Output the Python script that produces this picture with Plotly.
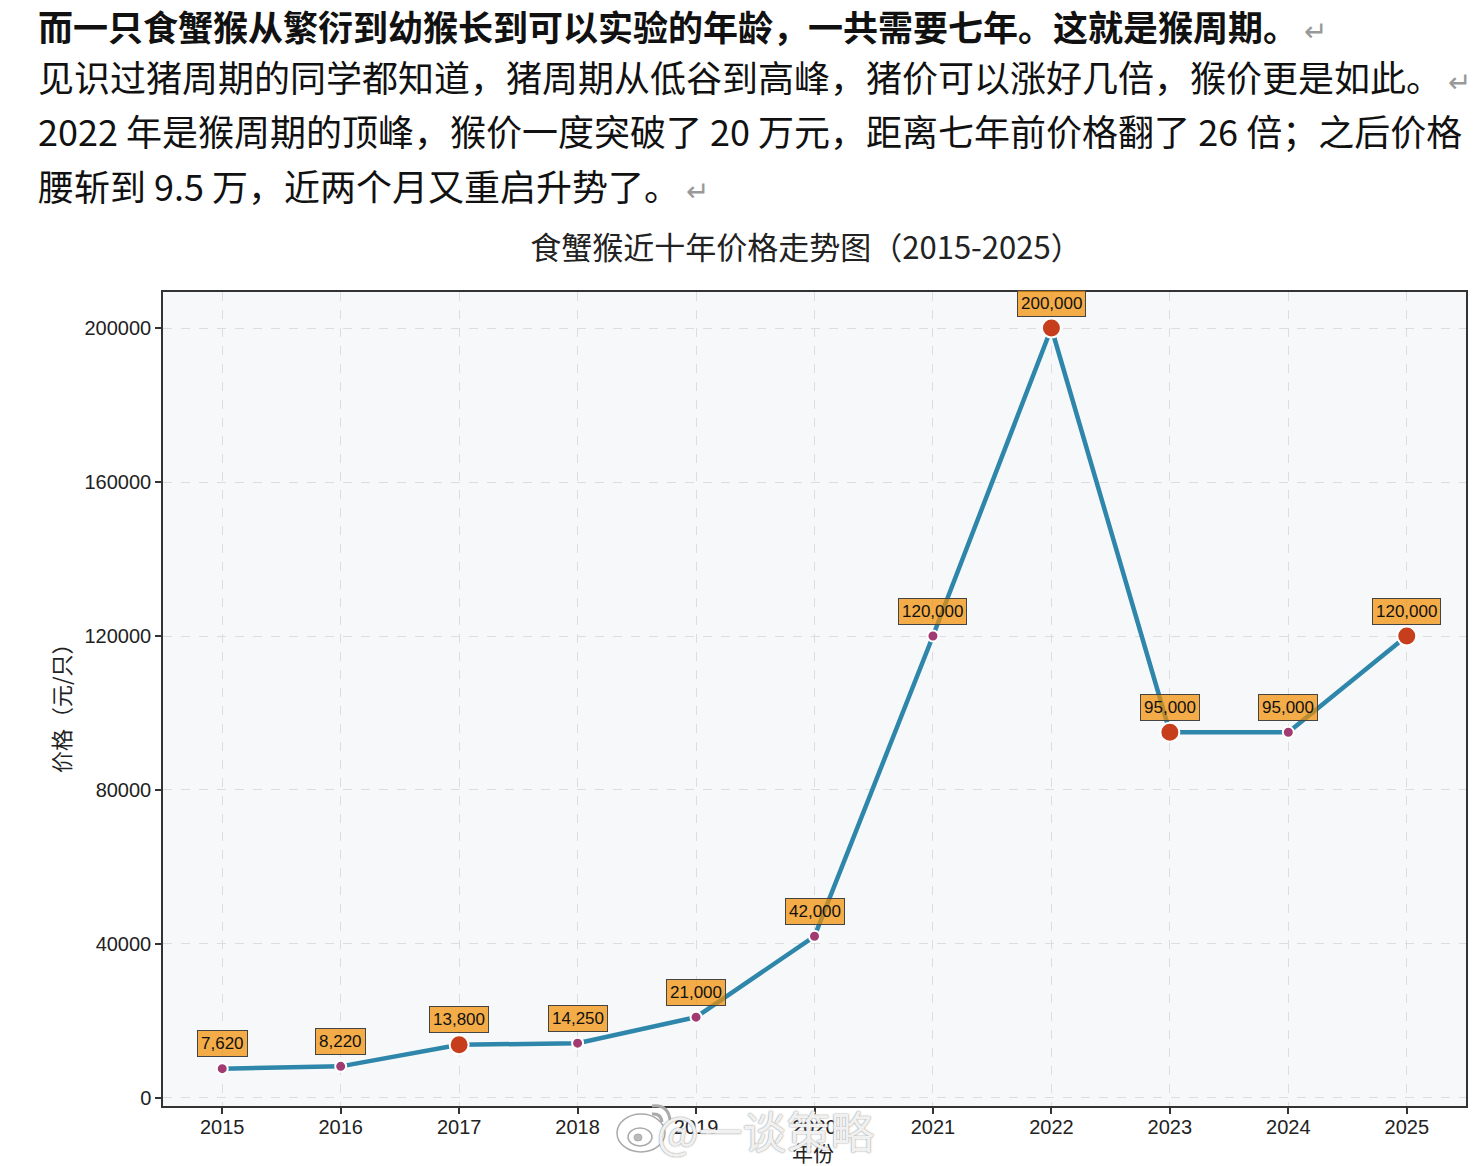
import plotly.graph_objects as go

# ---- data ----
years = [2015, 2016, 2017, 2018, 2019, 2020, 2021, 2022, 2023, 2024, 2025]
prices = [7620, 8220, 13800, 14250, 21000, 42000, 120000, 200000, 95000, 95000, 120000]
key_years = [2017, 2022, 2023, 2025]
y_ticks = [0, 40000, 80000, 120000, 160000, 200000]

title_text = "食蟹猴近十年价格走势图（2015-2025）"
x_title = "年份"
y_title = "价格（元/只）"
intro_lines = [
    ("而一只食蟹猴从繁衍到幼猴长到可以实验的年龄，一共需要七年。这就是猴周期。", True, True),
    ("见识过猪周期的同学都知道，猪周期从低谷到高峰，猪价可以涨好几倍，猴价更是如此。", False, True),
    ("2022 年是猴周期的顶峰，猴价一度突破了 20 万元，距离七年前价格翻了 26 倍；之后价格", False, False),
    ("腰斩到 9.5 万，近两个月又重启升势了。", False, True),
]
watermark = "@一谈策略"

# ---- layout geometry ----
W, H = 1482, 1166
L, R, T, B = 163, 16, 292, 60
PW, PH = W - L - R, H - T - B


def px(x):
    return (x - L) / PW


def py(y):
    return (H - B - y) / PH


CJK = "Noto Sans CJK SC"
BLUE = "#2E86AB"
PURPLE = "#A23B72"
RED = "#C73E1D"
LABEL_BG = "rgba(241,143,1,0.72)"

fig = go.Figure()

fig.add_trace(go.Scatter(
    x=years, y=prices, mode="lines",
    line=dict(color=BLUE, width=4.5), hoverinfo="skip", showlegend=False,
))

small_x = [yr for yr in years if yr not in key_years]
small_y = [p for yr, p in zip(years, prices) if yr not in key_years]
big_x = [yr for yr in years if yr in key_years]
big_y = [p for yr, p in zip(years, prices) if yr in key_years]

fig.add_trace(go.Scatter(
    x=small_x, y=small_y, mode="markers",
    marker=dict(color=PURPLE, size=11, line=dict(color="white", width=2)),
    showlegend=False,
))
fig.add_trace(go.Scatter(
    x=big_x, y=big_y, mode="markers",
    marker=dict(color=RED, size=19, line=dict(color="white", width=2)),
    showlegend=False,
))

annotations = []
for yr, p in zip(years, prices):
    annotations.append(dict(
        x=yr, y=p, xref="x", yref="y", text=f"{p:,}", showarrow=False,
        yshift=25, font=dict(family="Liberation Sans", size=17, color="#111"),
        bgcolor=LABEL_BG, bordercolor="#444", borderwidth=1, borderpad=3,
    ))

line_y = [25, 76, 130, 185]
for i, ((txt, bold, ret), yy) in enumerate(zip(intro_lines, line_y)):
    t = f"<b>{txt}</b>" if bold else txt
    if ret:
        t += "<span style='color:#999;font-size:28px'> ↵</span>"
    annotations.append(dict(
        x=px(36), y=py(yy), xref="paper", yref="paper", text=t,
        showarrow=False, xanchor="left", yanchor="middle",
        font=dict(family=CJK, size=35 if i == 0 else 36, color="#111"),
    ))

annotations.append(dict(
    x=px(60), y=py(703), xref="paper", yref="paper", text=y_title,
    showarrow=False, textangle=-90, xanchor="center", yanchor="middle",
    font=dict(family=CJK, size=22, color="#222"),
))
annotations.append(dict(
    x=px(813), y=py(1152), xref="paper", yref="paper", text=x_title,
    showarrow=False, xanchor="center", yanchor="middle",
    font=dict(family=CJK, size=21, color="#222"),
))
annotations.append(dict(
    x=px(766), y=py(1130), xref="paper", yref="paper", text=watermark,
    showarrow=False, xanchor="center", yanchor="middle",
    font=dict(family=CJK, size=44, color="rgba(255,255,255,0.9)",
              shadow="0 0 1px #888, 0 0 2px #aaa"),
))

# watermark logo (decoration)
shapes = [
    dict(type="circle", xref="paper", yref="paper",
         x0=px(617), x1=px(665), y0=py(1152), y1=py(1114),
         fillcolor="rgba(255,255,255,0.9)", line=dict(color="#aaa", width=1.5)),
    dict(type="circle", xref="paper", yref="paper",
         x0=px(628), x1=px(652), y0=py(1146), y1=py(1128),
         fillcolor="rgba(255,255,255,0.9)", line=dict(color="#aaa", width=1.5)),
    dict(type="circle", xref="paper", yref="paper",
         x0=px(634), x1=px(642), y0=py(1141), y1=py(1134),
         fillcolor="#bbb", line=dict(color="#aaa", width=1)),
    dict(type="path", xref="paper", yref="paper",
         path=f"M {px(652)},{py(1106)} Q {px(668)},{py(1104)} {px(670)},{py(1120)}",
         line=dict(color="#aaa", width=3)),
    dict(type="path", xref="paper", yref="paper",
         path=f"M {px(652)},{py(1114)} Q {px(661)},{py(1113)} {px(662)},{py(1122)}",
         line=dict(color="#aaa", width=3)),
]

axis_common = dict(
    showline=True, mirror=True, linecolor="#333", linewidth=1.5,
    ticks="outside", ticklen=6, tickcolor="#333", tickwidth=1.5,
    showgrid=True, gridcolor="#dddddd", griddash="dash", gridwidth=1,
    zeroline=False,
    tickfont=dict(family="Liberation Sans", size=20, color="#222"),
)

fig.update_layout(
    width=W, height=H,
    margin=dict(l=L, r=R, t=T, b=B),
    paper_bgcolor="white", plot_bgcolor="#f7f8fa",
    title=dict(text=title_text, x=806 / W, y=1 - 248 / H, xref="container", yref="container",
               xanchor="center", yanchor="middle",
               font=dict(family=CJK, size=31, color="#222")),
    xaxis=dict(range=[2014.5, 2025.5], tickvals=years, ticktext=[str(y) for y in years],
               ticklabelstandoff=-4, **axis_common),
    yaxis=dict(range=[-2080, 209350], tickvals=y_ticks, ticktext=[str(v) for v in y_ticks],
               **axis_common),
    annotations=annotations,
    shapes=shapes,
)

fig.write_html("out.html")
